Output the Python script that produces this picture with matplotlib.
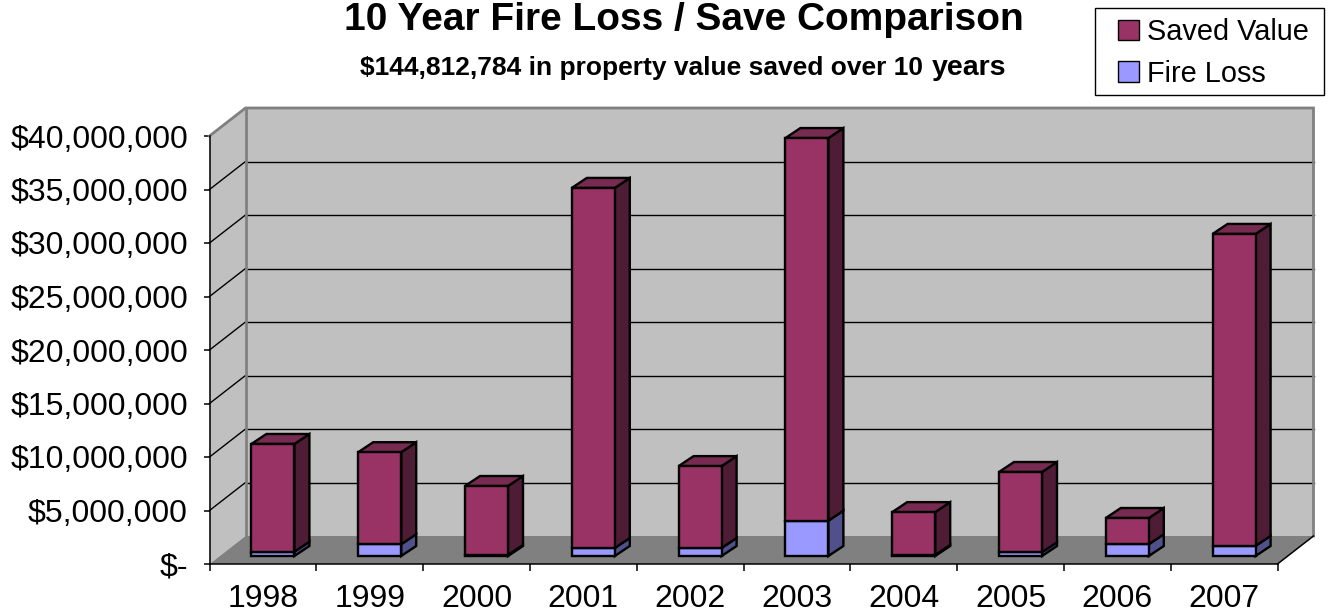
"""10 year fire loss / save comparison, faux 3D stacked bars."""
import matplotlib
matplotlib.use("Agg")
import matplotlib.pyplot as plt
from matplotlib.patches import Patch, Rectangle

plt.rcParams['font.family'] = ['Liberation Sans', 'DejaVu Sans']

years = ['1998', '1999', '2000', '2001', '2002', '2003', '2004', '2005', '2006', '2007']
fire_loss = [400000, 1100000, 100000, 750000, 750000, 3300000, 100000, 350000, 1100000, 950000]
saved_value = [10070000, 8600000, 6440000, 33650000, 7650000, 35760000, 4000000, 7500000, 2450000, 29150000]
y_ticks = [0, 5000000, 10000000, 15000000, 20000000, 25000000, 30000000, 35000000, 40000000]
y_labels = ['$-', '$5,000,000', '$10,000,000', '$15,000,000', '$20,000,000',
            '$25,000,000', '$30,000,000', '$35,000,000', '$40,000,000']

W, H = 1332, 612
fig = plt.figure(figsize=(W / 100, H / 100), dpi=100, facecolor='white')

# axes = front plane of the 3D box
left, right, top, bottom = 209.5, 1277.5, 136, 564
ax = fig.add_axes([left / W, 1 - bottom / H, (right - left) / W, (bottom - top) / H])
ax.set_xlim(0, len(years))
ax.set_ylim(0, 40000000)
ax.patch.set_visible(False)

# pixels to data units, for the depth offsets
px_x = len(years) / (right - left)
px_y = 40000000 / (bottom - top)

box_dx, box_dy = 36 * px_x, 28 * px_y
ymax = y_ticks[-1]
xmax = len(years)

# walls and floor
ax.fill([0, box_dx, box_dx, 0], [0, box_dy, ymax + box_dy, ymax], color='#C0C0C0', lw=0, zorder=1, clip_on=False)
ax.fill([box_dx, xmax + box_dx, xmax + box_dx, box_dx], [box_dy, box_dy, ymax + box_dy, ymax + box_dy],
        color='#C0C0C0', lw=0, zorder=1, clip_on=False)
ax.fill([0, xmax, xmax + box_dx, box_dx], [0, 0, box_dy, box_dy], color='#808080', lw=0, zorder=1, clip_on=False)

# gridlines on both walls
for v in y_ticks[1:-1]:
    ax.plot([0, box_dx], [v, v + box_dy], color='black', lw=1, zorder=2, clip_on=False)
    ax.plot([box_dx, xmax + box_dx], [v + box_dy, v + box_dy], color='black', lw=1, zorder=2, clip_on=False)

# grey wall edges
ax.plot([0, box_dx, xmax + box_dx, xmax + box_dx], [ymax, ymax + box_dy, ymax + box_dy, box_dy],
        color='#808080', lw=2, zorder=2, clip_on=False, solid_joinstyle='miter')
ax.plot([box_dx, box_dx], [box_dy, ymax + box_dy], color='#808080', lw=2, zorder=2, clip_on=False)
ax.plot([xmax, xmax + box_dx], [0, box_dy], color='black', lw=1.1, zorder=2, clip_on=False)

# bars
bar_w = 43 * px_x
bar_off = 10 * px_x
lift = 8 * px_y
depth_x, depth_y = 15 * px_x, 10 * px_y
edge = dict(edgecolor='black', linewidth=1.7, joinstyle='miter', clip_on=False)


def draw_segment(x0, low, high, front, side, roof=None):
    x1 = x0 + bar_w
    ax.fill([x1, x1 + depth_x, x1 + depth_x, x1],
            [low, low + depth_y, high + depth_y, high], facecolor=side, zorder=3, **edge)
    if roof:
        ax.fill([x0, x0 + depth_x, x1 + depth_x, x1],
                [high, high + depth_y, high + depth_y, high], facecolor=roof, zorder=3, **edge)
    ax.bar(x0, high - low, width=bar_w, bottom=low, align='edge', color=front, zorder=4, **edge)


for i in range(len(years)):
    x0 = i + 0.5 + bar_off - bar_w / 2
    mid = lift + fire_loss[i]
    draw_segment(x0, lift, mid, '#9999FF', '#50508A')
    draw_segment(x0, mid, mid + saved_value[i], '#993366', '#4F1C35', '#772B50')

# axes
for s in ['top', 'right']:
    ax.spines[s].set_visible(False)
for s in ['left', 'bottom']:
    ax.spines[s].set_linewidth(1.1)
    ax.spines[s].set_zorder(5)
ax.set_yticks(y_ticks)
ax.set_yticklabels(y_labels)
ax.set_xticks(range(len(years) + 1))
ax.set_xticklabels([])
ax.set_xticks([i + 0.5 for i in range(len(years))], minor=True)
ax.set_xticklabels(years, minor=True)
ax.tick_params(axis='y', labelsize=23, length=4.5, width=1.1, pad=11)
ax.tick_params(axis='x', which='major', length=5, width=1.1)
ax.tick_params(axis='x', which='minor', length=0, labelsize=23, pad=14.5)

# titles
fig.text(683.5 / W, 1 - 20 / H, '10 Year Fire Loss / Save Comparison', ha='center', va='center',
         fontsize=28, fontweight='bold')
fig.text(360 / W, 1 - 68 / H, '$144,812,784 in property value saved over 10', ha='left', va='center',
         fontsize=19, fontweight='bold')
fig.text(932 / W, 1 - 68 / H, 'years', ha='left', va='center', fontsize=20.5, fontweight='bold')

# legend, box drawn separately because its left padding is wider than the right
fig.add_artist(Rectangle((1095 / W, 1 - 95 / H), 229 / W, 87 / H, transform=fig.transFigure,
                         facecolor='white', edgecolor='black', linewidth=1))
handles = [Patch(facecolor='#993366', edgecolor='black', linewidth=1, label='Saved Value'),
           Patch(facecolor='#9999FF', edgecolor='black', linewidth=1, label='Fire Loss')]
fig.legend(handles=handles, loc='upper left', bbox_to_anchor=(1118 / W, 1 - 18 / H),
           fontsize=20.8, frameon=False, handlelength=0.72, handleheight=0.72, handletextpad=0.27,
           labelspacing=0.48, borderpad=0, borderaxespad=0, alignment='left')

fig.savefig('out.png', dpi=100)
plt.close(fig)
